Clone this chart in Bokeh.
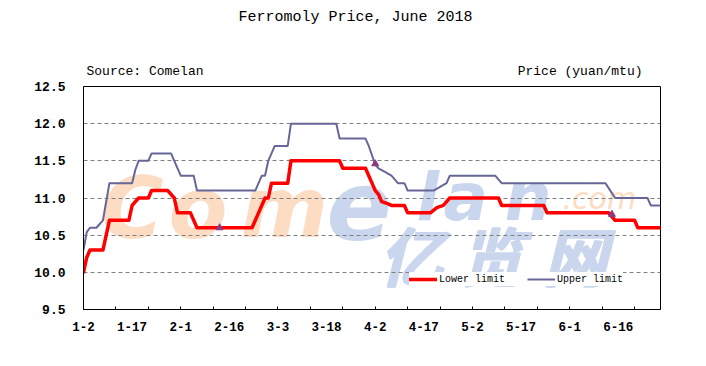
from bokeh.plotting import figure
from bokeh.models import (FixedTicker, Range1d, Legend, LegendItem, LinearAxis)
from bokeh.core.properties import value
from bokeh.embed import file_html
from bokeh.resources import INLINE

# ---------------- data (day index from 2 Jan 2018) ----------------
lower_days = [0, 1, 2, 6, 7, 8, 14, 15, 17, 20, 21, 26, 28, 29, 33, 35, 52, 54,
              56, 57, 58, 63, 64, 79, 80, 87, 88, 89, 90, 91, 92, 94, 95, 99,
              100, 107, 109, 111, 113, 128, 129, 142, 143, 162, 164, 170, 171, 178]
lower_vals = [10.0, 10.2, 10.3, 10.3, 10.5, 10.7, 10.7, 10.9, 11.0, 11.0, 11.1,
              11.1, 11.0, 10.8, 10.8, 10.6, 10.6, 10.8, 11.0, 11.0, 11.2, 11.2,
              11.5, 11.5, 11.4, 11.4, 11.3, 11.2, 11.1, 11.05, 10.95, 10.92,
              10.9, 10.9, 10.8, 10.8, 10.87, 10.9, 11.0, 11.0, 10.9, 10.9, 10.8,
              10.8, 10.7, 10.7, 10.6, 10.6]

upper_days = [0, 1, 2, 4, 5, 6, 7, 8, 15, 16, 17, 20, 21, 27, 28, 30, 34, 35,
              53, 55, 56, 57, 59, 63, 64, 78, 79, 87, 88, 90, 91, 93, 95, 97,
              99, 100, 108, 110, 112, 113, 127, 129, 161, 164, 174, 175, 178]
upper_vals = [10.3, 10.54, 10.6, 10.6, 10.65, 10.7, 10.95, 11.2, 11.2, 11.38,
              11.5, 11.5, 11.6, 11.6, 11.5, 11.3, 11.3, 11.1, 11.1, 11.3, 11.3,
              11.5, 11.7, 11.7, 12.0, 12.0, 11.8, 11.8, 11.7, 11.45, 11.4, 11.35,
              11.3, 11.2, 11.2, 11.1, 11.1, 11.15, 11.2, 11.3, 11.3, 11.2, 11.2,
              11.0, 11.0, 10.9, 10.9]

mark_days = [42, 90, 163]
mark_vals = [10.6, 11.46, 10.78]

label_days = [0, 15, 30, 45, 60, 75, 90, 105, 120, 135, 150, 165]
x_labels = ["1-2", "1-17", "2-1", "2-16", "3-3", "3-18", "4-2", "4-17",
            "5-2", "5-17", "6-1", "6-16"]
tick_days = [0, 10, 20, 30, 40, 50, 60, 70, 80, 90, 100, 110, 120, 130,
             140, 150, 160, 170]
y_ticks = [9.5, 10.0, 10.5, 11.0, 11.5, 12.0, 12.5]
y_labels = ["9.5", "10.0", "10.5", "11.0", "11.5", "12.0", "12.5"]
grid_ticks = [10.0, 10.5, 11.0, 11.5, 12.0]

TITLE = "Ferromoly Price, June 2018"
SOURCE = "Source: Comelan"
UNIT = "Price (yuan/mtu)"

MONO = "Liberation Mono"

# frame placement (pixels in the page)
FL, FT, FR, FB = 83, 86, 660, 309
W, H = 690, 350

p = figure(width=W, height=H, output_backend="svg", toolbar_location=None,
           x_range=Range1d(0, 178), y_range=Range1d(9.5, 12.5),
           min_border_left=FL, min_border_right=W - FR,
           min_border_top=FT, min_border_bottom=H - FB)
p.title.visible = False
p.background_fill_color = "white"
p.border_fill_color = "white"
p.outline_line_color = "black"
p.outline_line_width = 1


# helpers: page pixel -> data coordinates (text placement only)
def dx(px):
    return (px - FL) * 178.0 / (FR - FL)


def dy(py):
    return 12.5 - (py - FT) * 3.0 / (FB - FT)


# ---------------- watermark ----------------
peach = "#FCDCC2"
lblue = "#C9D6EE"
SANS = "DejaVu Sans"
wm = [
    ("C", 100, 207, "86px", peach, SANS, "bold italic"),
    ("o", 168, 207, "86px", peach, SANS, "bold italic"),
    ("m", 240, 207, "84px", peach, SANS, "bold italic"),
    ("e", 326, 204, "96px", lblue, SANS, "bold italic"),
    ("l", 416, 197, "66px", lblue, SANS, "bold italic"),
    ("a", 443, 197, "66px", lblue, SANS, "bold italic"),
    ("n", 504, 197, "66px", lblue, SANS, "bold italic"),
    (".com", 562, 198, "30px", peach, SANS, "italic"),
]
for t, px, py, fs, col, fnt, sty in wm:
    r = p.text(x=[dx(px)], y=[dy(py)], text=[t], text_font=value(fnt),
               text_font_size=fs, text_color=col, text_font_style=sty,
               text_align="left", text_baseline="alphabetic")
    r.level = "image"

cjk = [("亿", 378), ("览", 458), ("网", 542)]
for t, px in cjk:
    for ox, oy in [(0, 0), (1.5, 0), (0, 1.2), (1.5, 1.2)]:
        r = p.text(x=[dx(px + ox)], y=[dy(252 + oy)], text=[t],
                   text_font=value("Noto Sans CJK SC"), text_font_size="64px",
                   text_color=lblue, text_font_style="bold italic",
                   text_align="left", text_baseline="alphabetic")
        r.level = "image"

# ---------------- series ----------------
r_low = p.line(lower_days, lower_vals, line_color="#FF0000", line_width=3.5,
               line_join="round", line_cap="round")
r_up = p.line(upper_days, upper_vals, line_color="#666699", line_width=2,
              line_join="round")
p.scatter(mark_days, mark_vals, marker="triangle", size=7,
          fill_color="#8B3A80", line_color="#8B3A80")

# ---------------- axes & grid ----------------
p.xgrid.visible = False
p.ygrid.ticker = FixedTicker(ticks=grid_ticks)
p.ygrid.grid_line_color = "#808080"
p.ygrid.grid_line_dash = "4 3"
p.ygrid.grid_line_width = 1

xa = p.xaxis[0]
xa.ticker = FixedTicker(ticks=label_days, minor_ticks=tick_days)
xa.major_label_overrides = dict(zip(label_days, x_labels))
xa.major_tick_in = 0
xa.major_tick_out = 0
xa.minor_tick_in = 3
xa.minor_tick_out = 0
xa.minor_tick_line_color = "black"
xa.axis_line_color = "black"
xa.major_label_standoff = 12
xa.major_label_text_font = MONO
xa.major_label_text_font_size = "12.5px"
xa.major_label_text_font_style = "bold"
xa.major_label_text_color = "black"

ya = p.yaxis[0]
ya.ticker = FixedTicker(ticks=y_ticks, minor_ticks=[])
ya.major_label_overrides = dict(zip(y_ticks, y_labels))
ya.major_tick_in = 0
ya.major_tick_out = 0
ya.minor_tick_line_color = None
ya.axis_line_color = "black"
ya.major_label_standoff = 18
ya.major_label_text_font = MONO
ya.major_label_text_font_size = "13px"
ya.major_label_text_font_style = "bold"
ya.major_label_text_color = "black"


# ---------------- header texts as label-only axes above the frame ----------------
def text_axis(positions, texts, size, standoff):
    ax = LinearAxis(ticker=FixedTicker(ticks=positions, minor_ticks=[]),
                    major_label_overrides=dict(zip(positions, texts)))
    ax.axis_line_color = None
    ax.major_tick_line_color = None
    ax.minor_tick_line_color = None
    ax.major_tick_in = 0
    ax.major_tick_out = 0
    ax.major_label_standoff = standoff
    ax.major_label_text_font = MONO
    ax.major_label_text_font_size = size
    ax.major_label_text_font_style = "normal"
    ax.major_label_text_color = "black"
    return ax


sub_pos = [dx(86 + 7.8 * len(SOURCE) / 2), dx(642 - 7.8 * len(UNIT) / 2)]
p.add_layout(text_axis(sub_pos, [SOURCE, UNIT], "13px", 8), "above")
p.add_layout(text_axis([dx(355)], [TITLE], "15px", 35), "above")

# ---------------- legend ----------------
legend = Legend(items=[LegendItem(label="Lower limit", renderers=[r_low]),
                       LegendItem(label="Upper limit", renderers=[r_up])],
                orientation="horizontal", location=(326, 23))
legend.margin = 0
legend.padding = 6
legend.spacing = 22
legend.glyph_width = 28
legend.glyph_height = 14
legend.label_height = 14
legend.label_standoff = 2
legend.label_text_font = MONO
legend.label_text_font_size = "10px"
legend.label_text_color = "black"
legend.border_line_color = None
legend.background_fill_color = "white"
legend.background_fill_alpha = 1.0
p.add_layout(legend)

open("out.html", "w").write(file_html(p, INLINE))
